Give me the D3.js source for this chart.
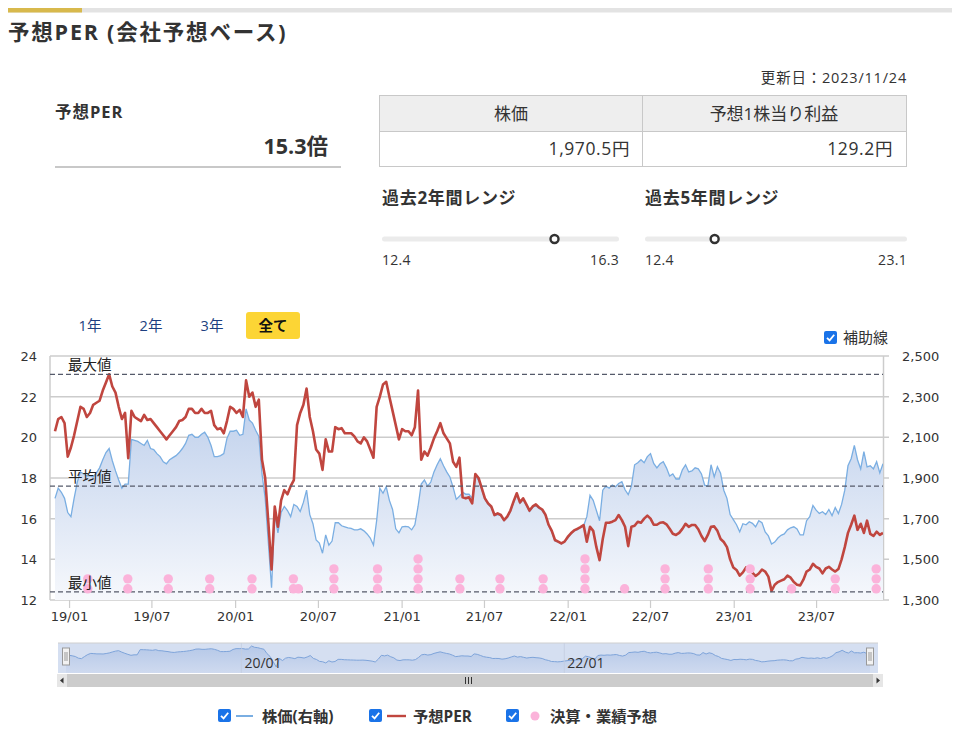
<!DOCTYPE html>
<html><head><meta charset="utf-8">
<script src="https://cdn.jsdelivr.net/npm/d3@7"></script>
<style>
body{margin:0;background:#fff;}
svg{display:block;}
</style></head><body>
<svg id="c" width="961" height="741"></svg>
<script>
// ---------------- DATA ----------------
const weekStart = "2018-11-30"; // weekly observations, last one = 2023-11-24
const perValues = [
20.3,20.9,21.0,20.7,19.05,19.5,20.1,20.8,21.5,21.4,
21.0,21.2,21.6,21.7,21.8,22.3,22.7,23.1,22.5,22.2,
21.5,20.9,21.2,18.97,21.3,21.0,20.9,20.8,21.1,20.85,
20.9,20.7,20.5,20.3,20.1,19.9,20.1,20.3,20.5,20.8,
20.85,21.0,21.4,21.4,21.2,21.2,21.4,21.2,21.2,21.3,
20.6,20.4,20.45,20.2,20.8,21.5,21.4,21.2,21.35,21.0,
22.8,22.0,22.2,21.5,21.85,18.9,18.0,15.8,13.5,16.6,
15.6,16.9,17.4,17.2,17.6,17.9,20.6,21.2,21.6,22.4,
21.0,20.3,19.4,19.2,18.4,19.9,19.3,19.3,20.5,20.4,
20.45,20.2,20.2,20.2,20.05,19.8,19.7,20.0,19.8,19.4,
19.0,21.5,22.0,22.6,22.73,22.0,21.3,20.6,19.9,20.4,
20.3,20.3,20.1,20.5,22.3,18.9,19.3,19.1,19.5,19.95,
20.3,20.7,20.2,19.95,19.7,18.8,18.55,19.0,17.05,17.0,
17.05,16.75,18.2,18.0,17.5,17.0,16.75,16.6,16.18,16.26,
16.18,15.93,16.1,16.4,16.85,17.25,16.8,17.0,16.7,16.4,
16.6,16.7,16.55,16.45,16.2,15.7,15.4,14.95,14.87,14.78,
14.87,15.1,15.28,15.42,15.5,15.58,15.68,14.87,15.6,15.4,
14.6,13.96,15.0,15.8,15.8,15.85,15.93,16.18,15.93,15.6,
14.65,15.6,15.65,15.85,15.8,16.0,16.15,16.0,15.7,15.7,
15.8,15.82,15.72,15.5,15.26,15.2,15.3,15.5,15.75,15.6,
15.69,15.69,15.48,15.15,14.9,15.2,15.6,15.62,15.4,15.0,
14.85,14.6,14.0,13.6,13.48,13.2,13.36,13.6,13.5,13.35,
13.18,13.3,13.5,13.4,13.15,12.45,12.75,12.88,12.95,13.02,
13.2,13.1,12.88,12.75,12.72,13.0,13.4,13.5,13.78,13.63,
13.55,13.31,13.55,13.63,13.5,13.4,13.52,14.0,14.6,15.3,
15.7,16.15,15.45,15.75,15.3,15.9,15.25,15.15,15.36,15.2,
15.3];
const priceValues = [
1800,1850,1830,1800,1730,1710,1800,1880,1930,1920,
1910,1910,1905,1925,1950,1990,2025,2045,1985,1935,
1890,1850,1870,1870,2090,2085,2080,2070,2060,2085,
2045,2040,2020,2005,1980,1970,1990,2000,2010,2025,
2045,2070,2110,2115,2100,2100,2115,2125,2100,2060,
2005,2005,2010,2020,2095,2130,2130,2135,2110,2115,
2240,2185,2170,2135,2105,1920,1800,1580,1360,1720,
1630,1730,1760,1740,1710,1770,1760,1735,1780,1840,
1720,1675,1595,1580,1530,1620,1570,1590,1680,1680,
1665,1660,1655,1652,1645,1645,1650,1640,1625,1605,
1570,1690,1850,1825,1857,1790,1745,1650,1630,1660,
1662,1660,1645,1670,1760,1870,1890,1860,1880,1930,
1965,1995,1960,1930,1905,1855,1795,1810,1830,1820,
1820,1800,1910,1890,1845,1795,1770,1755,1715,1720,
1715,1690,1705,1735,1780,1820,1775,1795,1765,1735,
1755,1765,1750,1740,1715,1665,1635,1590,1585,1575,
1585,1605,1625,1640,1645,1655,1665,1710,1815,1790,
1740,1690,1840,1860,1850,1865,1857,1873,1882,1842,
1818,1860,1965,1975,1990,1975,2005,2020,1972,1950,
1970,1980,1950,1910,1920,1895,1895,1940,1965,1930,
1935,1950,1945,1920,1865,1860,1965,1905,1955,1923,
1840,1800,1720,1695,1670,1635,1675,1670,1685,1677,
1660,1690,1680,1635,1615,1575,1585,1605,1618,1625,
1645,1655,1660,1650,1620,1620,1690,1710,1765,1742,
1726,1734,1720,1745,1715,1755,1725,1770,1840,1960,
1995,2060,1990,1945,2030,1955,1960,1945,1980,1925,
1970.5];
const eventDates = ["2019-02-10","2019-05-09","2019-08-06","2019-11-05","2020-02-06","2020-05-07","2020-05-18",
  "2020-08-04","2020-11-08","2021-02-05","2021-05-08","2021-08-04","2021-11-07","2022-02-07","2022-05-05",
  "2022-08-02","2022-11-05","2023-02-05","2023-05-07","2023-08-11","2023-11-09"];
const eventCounts = [2,2,2,2,2,2,1,3,3,4,2,2,2,4,1,3,3,3,1,2,3];
const xTickDates = ["2019-01-01","2019-07-01","2020-01-01","2020-07-01","2021-01-01","2021-07-01","2022-01-01","2022-07-01","2023-01-01","2023-07-01"];
const xTickLabels = ["19/01","19/07","20/01","20/07","21/01","21/07","22/01","22/07","23/01","23/07"];
const navTickDates = ["2020-01-01","2022-01-01"];
const navTickLabels = ["20/01","22/01"];
const perTicks = [12,14,16,18,20,22,24];
const priceTicks = [1300,1500,1700,1900,2100,2300,2500];
const refLabels = ["最大値","平均値","最小値"];
const refValues = [23.1,17.6,12.4];
const currentPER = 15.3, currentPrice = "1,970.5円", currentEPS = "129.2円", updated = "更新日：2023/11/24";
const range2 = [12.4,16.3], range5 = [12.4,23.1];
const tabs = ["1年","2年","3年","全て"];
const legendLabels = ["株価(右軸)","予想PER","決算・業績予想"];

// ---------------- DRAW ----------------
const jp = '"Open Sans","Noto Sans CJK JP",sans-serif';
const num = '"DejaVu Sans",Verdana,sans-serif';
const svg = d3.select("#c");
const parse = d3.timeParse("%Y-%m-%d");
const start = parse(weekStart);
const dates = perValues.map((_, i) => d3.timeDay.offset(start, 7 * i));
const data = dates.map((d, i) => ({d, per: perValues[i], price: priceValues[i]}));

function txt(x, y, s, size, opt = {}) {
  return svg.append("text").attr("x", x).attr("y", y).attr("font-family", opt.font || jp).attr("font-size", size)
    .attr("font-weight", opt.bold ? "bold" : "normal").attr("text-anchor", opt.anchor || "start")
    .attr("letter-spacing", opt.ls || 0).attr("fill", opt.fill || "#333").text(s);
}

// header
svg.append("rect").attr("x",8).attr("y",8).attr("width",944).attr("height",4.5).attr("fill","#e3e3e3");
svg.append("rect").attr("x",8).attr("y",8).attr("width",74).attr("height",4.5).attr("fill","#d8b94c");
txt(8, 40, "予想PER (会社予想ベース)", 21.5, {bold:true, ls:1.8});

// left panel
txt(55, 118, "予想PER", 16.5, {bold:true, ls:1.0});
txt(328, 154, currentPER.toFixed(1)+"倍", 21.5, {bold:true, anchor:"end"});
svg.append("rect").attr("x",55).attr("y",166).attr("width",286).attr("height",2).attr("fill","#c8c8c8");

// updated + table
txt(907, 83, updated, 14.5, {anchor:"end", ls:0.8});
svg.append("rect").attr("x",379.5).attr("y",95.5).attr("width",527).attr("height",36).attr("fill","#eeeeee");
svg.append("rect").attr("x",379.5).attr("y",95.5).attr("width",527).attr("height",71).attr("fill","none").attr("stroke","#c8c8c8");
svg.append("line").attr("x1",379.5).attr("x2",906.5).attr("y1",131.5).attr("y2",131.5).attr("stroke","#c8c8c8");
svg.append("line").attr("x1",642.5).attr("x2",642.5).attr("y1",95.5).attr("y2",166.5).attr("stroke","#c8c8c8");
txt(511, 120, "株価", 17, {anchor:"middle"});
txt(774, 120, "予想1株当り利益", 17, {anchor:"middle"});
txt(630, 155, currentPrice, 17.5, {anchor:"end", ls:0.6});
txt(893, 155, currentEPS, 17.5, {anchor:"end", ls:0.6});

// range sliders
function slider(x0, x1, title, rng) {
  txt(x0, 204, title, 17, {bold:true, ls:0.7});
  svg.append("rect").attr("x",x0).attr("y",236.5).attr("width",x1-x0).attr("height",5).attr("rx",2.5).attr("fill","#ebebeb");
  const s = d3.scaleLinear().domain(rng).range([x0, x1-5]);
  svg.append("circle").attr("cx",s(currentPER)).attr("cy",239).attr("r",4).attr("fill","#fff").attr("stroke","#333").attr("stroke-width",2.4);
  txt(x0, 265, rng[0].toFixed(1), 14, {ls:0.3});
  txt(x1, 265, rng[1].toFixed(1), 14, {anchor:"end", ls:0.3});
}
slider(382, 619, "過去2年間レンジ", range2);
slider(645, 907, "過去5年間レンジ", range5);

// tabs
const tabX = [90,151,212,273];
svg.append("rect").attr("x",246).attr("y",312).attr("width",54).attr("height",27).attr("rx",3).attr("fill","#fcd535");
tabs.forEach((t,i) => txt(tabX[i], 331, t, 14.5, {anchor:"middle", bold:i===3, fill: i===3?"#111":"#1d3f80"}));

function checkbox(x, y) {
  svg.append("rect").attr("x",x).attr("y",y).attr("width",13).attr("height",13).attr("rx",2).attr("fill","#1a73e8");
  svg.append("path").attr("d",`M${x+3},${y+6.8} L${x+5.6},${y+9.4} L${x+10.2},${y+3.8}`).attr("fill","none").attr("stroke","#fff").attr("stroke-width",1.8);
}
checkbox(824, 331);
txt(843, 343, "補助線", 15);

// main chart
const AL = 50, L = 55, R = 883, T = 356, B = 600;
const x = d3.scaleTime().domain([dates[0], dates[dates.length-1]]).range([L, R]);
const yP = d3.scaleLinear().domain([12,24]).range([B, T]);
const yR = d3.scaleLinear().domain([1300,2500]).range([B, T]);

const defs = svg.append("defs");
const g1 = defs.append("linearGradient").attr("id","af").attr("gradientUnits","userSpaceOnUse").attr("x1",0).attr("x2",0).attr("y1",T+60).attr("y2",B);
g1.append("stop").attr("offset",0).attr("stop-color","#c3d3ed");
g1.append("stop").attr("offset",1).attr("stop-color","#f6f8fc");
defs.append("clipPath").attr("id","pc").append("rect").attr("x",AL).attr("y",T-5).attr("width",R-AL).attr("height",B-T+5);

// grid
svg.append("g").selectAll("line").data(perTicks.slice(1)).join("line")
  .attr("x1",AL).attr("x2",R+6).attr("y1",d=>yP(d)).attr("y2",d=>yP(d)).attr("stroke","#cccccc").attr("stroke-width",1.5);
svg.append("line").attr("x1",AL).attr("x2",AL).attr("y1",T).attr("y2",B).attr("stroke","#cccccc").attr("stroke-width",1.5);
svg.append("line").attr("x1",R+0.5).attr("x2",R+0.5).attr("y1",T).attr("y2",B).attr("stroke","#cccccc").attr("stroke-width",1.5);
svg.append("line").attr("x1",AL).attr("x2",R+6).attr("y1",B).attr("y2",B).attr("stroke","#cccccc").attr("stroke-width",1.5);

// axes labels
perTicks.forEach(d => txt(37, yP(d)+5, d, 13, {font:num, anchor:"end"}));
priceTicks.forEach(d => txt(902, yR(d)+5, d3.format(",")(d), 13, {font:num}));
svg.append("g").selectAll("line").data(xTickDates).join("line").attr("x1",d=>x(parse(d))).attr("x2",d=>x(parse(d)))
  .attr("y1",B).attr("y2",B+8).attr("stroke","#cccccc").attr("stroke-width",1.2);
xTickLabels.forEach((d,i) => txt(x(parse(xTickDates[i])), 621, d, 13, {font:num, anchor:"middle"}));

const plot = svg.append("g").attr("clip-path","url(#pc)");
plot.append("path").datum(data).attr("fill","url(#af)")
  .attr("d", d3.area().x(d=>x(d.d)).y0(B).y1(d=>yR(d.price)));
plot.append("path").datum(data).attr("fill","none").attr("stroke","#7aaee2").attr("stroke-width",1.3)
  .attr("d", d3.line().x(d=>x(d.d)).y(d=>yR(d.price)));

// reference lines
refValues.forEach(v => svg.append("line").attr("x1",AL).attr("x2",R).attr("y1",yP(v)).attr("y2",yP(v))
  .attr("stroke","#555a6a").attr("stroke-width",1.3).attr("stroke-dasharray","5,3"));

plot.append("path").datum(data).attr("fill","none").attr("stroke","#c0463f").attr("stroke-width",2.6).attr("stroke-linejoin","round")
  .attr("d", d3.line().x(d=>x(d.d)).y(d=>yP(d.per)));

// events
const evPts = [];
eventDates.forEach((d,i) => { for (let k=0;k<eventCounts[i];k++) evPts.push({d: parse(d), k}); });
svg.append("g").selectAll("circle").data(evPts).join("circle")
  .attr("cx", d=>x(d.d)).attr("cy", d=>yP(12.55 + d.k*0.49)).attr("r",4.7).attr("fill","#fbb3da");

refValues.forEach((v,i) => txt(68, yP(v)-4, refLabels[i], 14.5, {fill:"#222"}));

// navigator
const NL = 58, NR = 878, NT = 643, NB = 673;
const xn = d3.scaleTime().domain(x.domain()).range([NL+8, NR-8]);
const yn = d3.scaleLinear().domain(d3.extent(priceValues)).range([NB-6, NT+3]);
svg.append("rect").attr("x",NL).attr("y",NT).attr("width",NR-NL).attr("height",NB-NT).attr("fill","#d5dff1");
const g2 = defs.append("linearGradient").attr("id","nf").attr("x1",0).attr("x2",0).attr("y1",0).attr("y2",1);
g2.append("stop").attr("offset",0).attr("stop-color","#b5c8e8");
g2.append("stop").attr("offset",1).attr("stop-color","#cfdaef");
svg.append("path").datum(data).attr("fill","url(#nf)").attr("d", d3.area().x(d=>xn(d.d)).y0(NB).y1(d=>yn(d.price)));
svg.append("path").datum(data).attr("fill","none").attr("stroke","#7ea4da").attr("stroke-width",1).attr("d", d3.line().x(d=>xn(d.d)).y(d=>yn(d.price)));
svg.append("line").attr("x1",NL).attr("x2",NR).attr("y1",NT).attr("y2",NT).attr("stroke","#cfcfcf");
navTickDates.forEach((d,i) => {
  const xx = xn(parse(d));
  svg.append("line").attr("x1",xx).attr("x2",xx).attr("y1",NT).attr("y2",NB).attr("stroke","#c3cde0").attr("stroke-width",0.8);
  txt(xx+3, 668, navTickLabels[i], 14);
});
[NL+8, NR-8].forEach(hx => {
  svg.append("rect").attr("x",hx-3.5).attr("y",648).attr("width",7).attr("height",17).attr("fill","#f2f2f2").attr("stroke","#999");
  svg.append("line").attr("x1",hx-1).attr("x2",hx-1).attr("y1",652).attr("y2",661).attr("stroke","#999");
  svg.append("line").attr("x1",hx+1).attr("x2",hx+1).attr("y1",652).attr("y2",661).attr("stroke","#999");
});
// scrollbar
svg.append("rect").attr("x",57).attr("y",674).attr("width",826).attr("height",13).attr("fill","#cccccc");
svg.append("rect").attr("x",57).attr("y",674).attr("width",10).attr("height",13).attr("fill","#e6e6e6");
svg.append("rect").attr("x",873).attr("y",674).attr("width",10).attr("height",13).attr("fill","#e6e6e6");
svg.append("path").attr("d","M63.5,677.5 L60,680.5 L63.5,683.5 Z").attr("fill","#333");
svg.append("path").attr("d","M876.5,677.5 L880,680.5 L876.5,683.5 Z").attr("fill","#333");
[-3,0,3].forEach(o => svg.append("line").attr("x1",468.5+o).attr("x2",468.5+o).attr("y1",677).attr("y2",684).attr("stroke","#333").attr("stroke-width",1));

// legend
checkbox(218, 709);
svg.append("line").attr("x1",236).attr("x2",253).attr("y1",716).attr("y2",716).attr("stroke","#7aaee2").attr("stroke-width",2);
txt(262, 721.5, legendLabels[0], 15.3, {bold:true});
checkbox(369, 709);
svg.append("line").attr("x1",387).attr("x2",406).attr("y1",716).attr("y2",716).attr("stroke","#c0463f").attr("stroke-width",2.4);
txt(413, 721.5, legendLabels[1], 15.3, {bold:true});
checkbox(506, 709);
svg.append("circle").attr("cx",535).attr("cy",716).attr("r",4.5).attr("fill","#fbb3da");
txt(550, 721.5, legendLabels[2], 15.3, {bold:true});
</script>
</body></html>
